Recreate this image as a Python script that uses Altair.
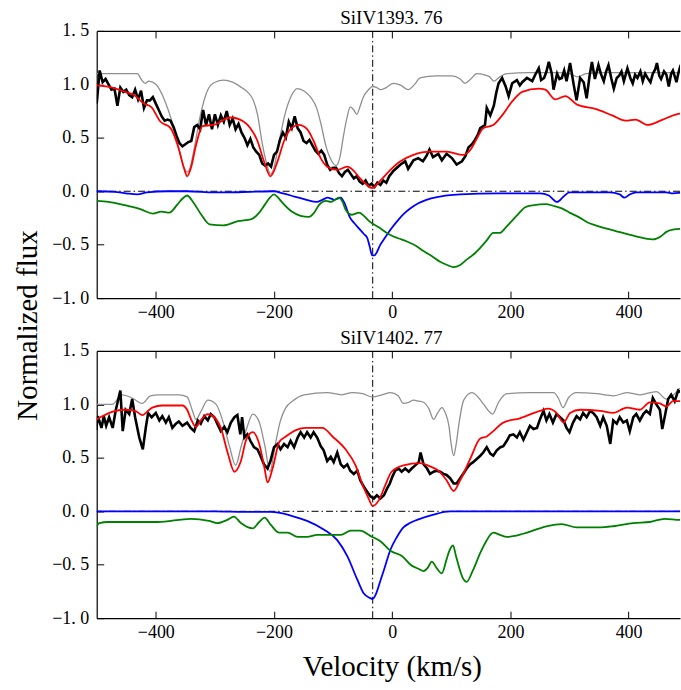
import altair as alt
import pandas as pd

FONT = "Liberation Serif"
VLINE = [-33]
ZERO = [0.0]
X_TICKS = [-400, -200, 0, 200, 400]
Y_TICKS = [-1.0, -0.5, 0.0, 0.5, 1.0, 1.5]
TITLES = ["SiIV1393. 76", "SiIV1402. 77"]

# ---------------- SiIV1393.76 (top) : (velocity, flux) ----------------
top_black = [(-500,0.82),(-495,1.13),(-490,1.02),(-485,1.05),(-480,1.00),(-475,0.95),(-470,0.96),(-465,0.80),
             (-460,0.97),(-455,0.93),(-450,0.95),(-445,0.90),(-440,0.88),(-435,0.95),(-430,0.86),(-425,0.94),
             (-420,0.78),(-415,0.85),(-410,0.85),(-405,0.88),(-400,0.82),(-395,0.76),(-390,0.70),(-385,0.66),
             (-380,0.67),(-375,0.66),(-370,0.60),(-365,0.52),(-360,0.45),(-355,0.42),(-350,0.44),(-345,0.46),
             (-340,0.47),(-335,0.60),(-330,0.62),(-325,0.58),(-320,0.76),(-315,0.62),(-310,0.72),(-305,0.58),
             (-300,0.72),(-295,0.62),(-290,0.71),(-285,0.65),(-280,0.75),(-275,0.62),(-270,0.68),(-265,0.58),
             (-260,0.63),(-255,0.55),(-250,0.50),(-245,0.43),(-240,0.49),(-235,0.41),(-230,0.37),(-225,0.34),
             (-220,0.26),(-215,0.24),(-210,0.26),(-205,0.23),(-200,0.34),(-195,0.37),(-190,0.48),(-185,0.55),
             (-180,0.50),(-175,0.65),(-170,0.59),(-165,0.70),(-160,0.59),(-155,0.55),(-150,0.47),(-145,0.45),
             (-140,0.48),(-135,0.43),(-130,0.38),(-125,0.35),(-120,0.38),(-115,0.34),(-110,0.25),(-105,0.20),
             (-100,0.22),(-95,0.22),(-90,0.17),(-85,0.14),(-80,0.18),(-75,0.20),(-70,0.16),(-65,0.12),
             (-60,0.14),(-55,0.09),(-50,0.07),(-45,0.10),(-40,0.05),(-35,0.07),(-30,0.04),(-25,0.08),
             (-20,0.06),(-15,0.10),(-10,0.08),(-5,0.14),(2,0.19),(8,0.22),(14,0.25),(22,0.28),(27,0.21),
             (36,0.29),(44,0.31),(52,0.28),(58,0.33),(63,0.39),(69,0.32),(78,0.35),(84,0.29),(92,0.35),
             (101,0.31),(109,0.25),(118,0.28),(124,0.33),(129,0.41),(135,0.44),(140,0.48),(145,0.53),
             (149,0.59),(157,0.62),(160,0.78),(166,0.71),(172,0.80),(176,0.92),(180,1.01),(186,1.06),
             (192,0.98),(197,0.89),(203,1.01),(211,1.04),(216,0.99),(220,1.02),(228,1.06),(237,1.03),
             (242,1.09),(248,1.15),(252,1.04),(257,1.06),(261,1.12),(265,1.21),(270,1.10),(273,0.95),
             (279,1.10),(283,1.05),(287,1.06),(291,1.13),(295,1.03),(301,1.20),(307,1.00),(312,0.85),
             (318,1.06),(324,1.02),(329,0.87),(334,1.08),(338,1.21),(343,1.05),(349,1.18),(353,1.10),
             (358,1.03),(362,1.12),(366,1.18),(371,1.05),(375,0.96),(380,1.06),(384,1.08),(388,1.12),
             (392,1.03),(398,1.15),(403,1.06),(407,1.01),(411,1.09),(415,1.06),(420,1.12),(424,1.03),
             (428,1.10),(432,1.06),(437,1.02),(441,1.10),(445,1.14),(448,1.20),(452,1.08),(455,1.05),
             (460,1.12),(464,1.09),(468,0.98),(472,1.10),(475,1.13),(481,1.02),(484,1.10),(487,1.16),(492,1.12)]

top_red = [(-500,0.99),(-474,0.97),(-452,0.93),(-437,0.90),(-420,0.82),(-408,0.79),(-392,0.65),(-375,0.59),
           (-363,0.43),(-352,0.21),(-347,0.14),(-341,0.21),(-332,0.43),(-321,0.61),(-302,0.62),(-274,0.69),
           (-251,0.65),(-240,0.59),(-228,0.47),(-217,0.28),(-206,0.14),(-194,0.28),(-183,0.47),(-172,0.58),
           (-158,0.62),(-144,0.58),(-133,0.47),(-121,0.31),(-110,0.23),(-93,0.20),(-76,0.23),(-65,0.19),
           (-56,0.13),(-45,0.07),(-34,0.03),(-20,0.10),(-3,0.20),(14,0.28),(36,0.34),(64,0.37),(92,0.37),
           (120,0.34),(134,0.40),(143,0.49),(154,0.59),(171,0.62),(186,0.71),(203,0.84),(220,0.93),
           (248,0.96),(259,0.95),(276,0.86),(293,0.89),(313,0.81),(344,0.77),(372,0.71),(395,0.66),
           (412,0.67),(432,0.62),(458,0.67),(481,0.72),(495,0.73)]

top_gray = [(-500,1.10),(-431,1.10),(-425,1.05),(-418,1.01),(-412,1.03),(-400,1.00),(-385,0.85),(-370,0.60),
            (-360,0.38),(-352,0.22),(-347,0.18),(-342,0.22),(-335,0.40),(-325,0.70),(-312,0.95),(-300,1.02),
            (-285,1.04),(-270,1.02),(-255,0.97),(-245,0.93),(-235,0.85),(-228,0.72),(-220,0.45),(-212,0.25),
            (-206,0.16),(-200,0.22),(-192,0.45),(-180,0.75),(-170,0.90),(-161,0.96),(-150,0.94),(-138,0.88),
            (-128,0.78),(-121,0.64),(-112,0.42),(-105,0.31),(-95,0.24),(-88,0.33),(-83,0.50),(-76,0.70),
            (-71,0.79),(-65,0.76),(-60,0.72),(-54,0.80),(-49,0.88),(-40,0.95),(-33,0.98),(-26,0.97),
            (-20,0.95),(-10,0.97),(2,1.01),(15,0.99),(27,0.95),(38,1.00),(47,1.06),(75,1.08),(101,1.08),
            (115,1.05),(123,1.01),(133,1.05),(143,1.10),(155,1.09),(165,1.07),(172,1.03),(182,1.07),
            (194,1.10),(230,1.11),(280,1.11),(300,1.10),(314,1.07),(328,1.10),(360,1.11),(420,1.11),(495,1.11)]

top_blue = [(-500,0.0),(-470,-0.005),(-450,-0.02),(-431,-0.03),(-415,-0.01),(-380,0.0),(-347,0.0),
            (-300,-0.01),(-279,-0.01),(-240,-0.005),(-200,0.0),(-185,-0.02),(-165,-0.05),(-145,-0.08),
            (-128,-0.10),(-118,-0.08),(-109,-0.06),(-103,-0.07),(-98,-0.08),(-87,-0.06),(-80,-0.12),
            (-72,-0.24),(-64,-0.30),(-56,-0.35),(-48,-0.40),(-42,-0.44),(-38,-0.52),(-34,-0.60),(-30,-0.60),
            (-26,-0.57),(-20,-0.50),(-14,-0.45),(-3,-0.36),(10,-0.27),(20,-0.21),(31,-0.16),(45,-0.11),
            (64,-0.07),(90,-0.04),(115,-0.03),(180,-0.02),(250,-0.02),(265,-0.04),(279,-0.10),(290,-0.05),
            (300,-0.01),(368,-0.01),(385,-0.03),(393,-0.06),(402,-0.03),(413,-0.01),(464,-0.01),(475,-0.02),
            (487,-0.015),(495,-0.01)]

top_green = [(-500,-0.09),(-480,-0.10),(-453,-0.13),(-425,-0.17),(-405,-0.21),(-391,-0.19),(-377,-0.20),
             (-363,-0.12),(-355,-0.07),(-347,-0.04),(-337,-0.10),(-323,-0.22),(-309,-0.31),(-286,-0.32),
             (-261,-0.28),(-238,-0.26),(-225,-0.20),(-216,-0.13),(-207,-0.06),(-200,-0.03),(-193,-0.06),
             (-187,-0.10),(-170,-0.19),(-155,-0.23),(-141,-0.24),(-132,-0.20),(-124,-0.13),(-112,-0.09),
             (-104,-0.10),(-97,-0.08),(-90,-0.06),(-84,-0.10),(-79,-0.17),(-68,-0.22),(-56,-0.20),(-48,-0.23),
             (-39,-0.28),(-22,-0.34),(-3,-0.41),(10,-0.44),(25,-0.47),(40,-0.51),(53,-0.56),(68,-0.61),
             (81,-0.66),(93,-0.69),(104,-0.71),(115,-0.69),(126,-0.64),(140,-0.58),(149,-0.53),(160,-0.46),
             (171,-0.39),(182,-0.39),(192,-0.34),(202,-0.28),(214,-0.21),(225,-0.15),(240,-0.13),(259,-0.12),
             (275,-0.14),(287,-0.16),(300,-0.20),(315,-0.24),(330,-0.29),(344,-0.32),(377,-0.37),(411,-0.42),
             (441,-0.45),(455,-0.42),(464,-0.38),(475,-0.36),(495,-0.35)]

# ---------------- SiIV1402.77 (bottom) : (velocity, flux) ----------------
bot_black = [(-501,0.76),(-498,0.89),(-492,0.78),(-488,0.89),(-484,0.80),(-479,0.88),(-473,0.78),(-468,0.94),
             (-460,1.13),(-456,0.75),(-451,0.95),(-445,0.91),(-440,1.05),(-435,0.88),(-428,0.69),(-422,0.58),
             (-417,0.78),(-413,0.92),(-407,0.88),(-400,0.92),(-394,0.85),(-389,0.89),(-383,0.83),(-378,0.88),
             (-372,0.78),(-366,0.82),(-361,0.84),(-355,0.80),(-347,0.83),(-341,0.78),(-335,0.75),(-329,0.85),
             (-324,0.82),(-318,0.89),(-312,0.85),(-307,0.91),(-301,0.88),(-296,0.82),(-290,0.75),(-284,0.79),
             (-279,0.74),(-273,0.83),(-267,0.88),(-262,0.90),(-257,0.72),(-254,0.88),(-250,0.69),(-245,0.72),
             (-240,0.66),(-234,0.60),(-228,0.58),(-223,0.52),(-217,0.44),(-211,0.40),(-206,0.47),(-200,0.60),
             (-194,0.63),(-189,0.58),(-183,0.63),(-177,0.60),(-172,0.66),(-166,0.60),(-160,0.69),(-155,0.74),
             (-149,0.69),(-144,0.74),(-138,0.69),(-133,0.74),(-127,0.69),(-121,0.61),(-116,0.57),(-110,0.47),
             (-104,0.51),(-99,0.46),(-93,0.55),(-87,0.44),(-82,0.41),(-76,0.44),(-71,0.38),(-65,0.35),
             (-59,0.38),(-54,0.29),(-48,0.23),(-42,0.18),(-37,0.14),(-31,0.12),(-26,0.15),(-20,0.12),
             (-14,0.15),(-9,0.21),(-4,0.26),(0,0.32),(5,0.38),(11,0.40),(16,0.37),(22,0.40),(28,0.37),
             (33,0.40),(39,0.43),(45,0.46),(48,0.55),(53,0.44),(59,0.40),(64,0.35),(70,0.37),(75,0.38),
             (81,0.37),(87,0.35),(92,0.34),(98,0.31),(104,0.26),(109,0.26),(115,0.31),(120,0.35),(126,0.40),
             (132,0.44),(137,0.46),(143,0.49),(149,0.52),(154,0.55),(160,0.60),(166,0.54),(171,0.52),
             (177,0.57),(183,0.60),(188,0.61),(194,0.66),(199,0.71),(205,0.72),(211,0.69),(216,0.74),
             (222,0.67),(228,0.74),(233,0.80),(239,0.77),(245,0.78),(250,0.86),(256,0.94),(261,0.85),
             (266,0.91),(272,0.83),(278,0.91),(284,0.88),(290,0.85),(295,0.78),(300,0.74),(306,0.83),
             (312,0.89),(318,0.86),(323,0.92),(329,0.88),(335,0.94),(340,0.92),(346,0.88),(352,0.80),
             (357,0.88),(363,0.80),(369,0.63),(374,0.85),(380,0.82),(385,0.88),(391,0.83),(397,0.85),
             (402,0.75),(408,0.88),(413,0.91),(419,0.85),(425,0.91),(430,0.94),(436,0.91),(441,1.06),
             (447,1.00),(453,0.95),(457,0.77),(461,0.88),(467,1.05),(472,1.09),(478,1.03),(484,1.13),(492,1.10)]

bot_red = [(-500,0.86),(-474,0.93),(-452,0.95),(-435,0.94),(-423,0.90),(-406,0.97),(-389,0.99),(-355,0.99),
           (-347,0.95),(-341,0.87),(-332,0.79),(-324,0.85),(-312,0.91),(-301,0.88),(-290,0.78),(-278,0.54),
           (-267,0.37),(-256,0.47),(-247,0.67),(-236,0.74),(-225,0.63),(-216,0.40),(-211,0.27),(-202,0.41),
           (-191,0.65),(-180,0.70),(-163,0.76),(-146,0.78),(-118,0.78),(-101,0.70),(-79,0.58),(-62,0.43),
           (-51,0.26),(-40,0.12),(-33,0.05),(-23,0.10),(-12,0.24),(-1,0.37),(19,0.43),(47,0.45),(64,0.42),
           (78,0.38),(92,0.29),(104,0.19),(115,0.29),(132,0.49),(149,0.68),(160,0.70),(171,0.75),(188,0.83),
           (216,0.87),(250,0.94),(264,0.96),(278,0.92),(290,0.83),(301,0.92),(318,0.95),(352,0.94),
           (374,0.92),(397,0.97),(419,0.95),(436,1.02),(453,1.01),(464,0.98),(475,1.03),(487,1.03),(495,1.05)]

bot_gray = [(-500,1.00),(-474,1.00),(-457,1.09),(-440,1.06),(-423,1.01),(-409,1.08),(-395,1.09),(-361,1.09),
            (-347,1.07),(-338,0.94),(-332,0.86),(-324,0.93),(-312,1.04),(-298,1.00),(-287,0.85),(-275,0.60),
            (-265,0.43),(-255,0.62),(-246,0.78),(-236,0.91),(-226,0.85),(-215,0.60),(-207,0.37),(-198,0.62),
            (-189,0.85),(-180,0.97),(-169,1.03),(-149,1.09),(-110,1.11),(-85,1.09),(-68,1.11),(-50,1.10),
            (-34,1.07),(-17,1.09),(-3,1.11),(10,1.08),(19,1.01),(28,1.02),(36,1.04),(45,1.03),(53,1.02),
            (62,0.96),(70,0.86),(77,0.92),(84,0.97),(90,0.92),(96,0.80),(100,0.62),(104,0.52),(108,0.62),
            (113,0.82),(121,1.04),(135,1.11),(155,1.00),(163,0.94),(170,0.91),(180,1.02),(194,1.10),
            (233,1.11),(273,1.11),(281,1.06),(289,0.97),(298,1.06),(312,1.11),(346,1.10),(374,1.08),
            (397,1.11),(419,1.09),(447,1.12),(464,1.05),(478,1.10),(487,1.15),(495,1.13)]

bot_blue = [(-500,0.0),(-400,0.0),(-300,0.0),(-250,-0.005),(-206,-0.005),(-190,-0.015),(-172,-0.04),
            (-144,-0.09),(-116,-0.17),(-93,-0.27),(-76,-0.42),(-59,-0.64),(-48,-0.77),(-38,-0.81),(-33,-0.82),
            (-28,-0.78),(-20,-0.65),(-14,-0.55),(-3,-0.36),(8,-0.24),(19,-0.15),(30,-0.11),(42,-0.08),
            (70,-0.03),(98,0.0),(200,0.0),(300,0.0),(400,0.0),(495,0.0)]

bot_green = [(-500,-0.145),(-496,-0.11),(-480,-0.10),(-453,-0.10),(-397,-0.10),(-341,-0.07),(-310,-0.09),
             (-296,-0.11),(-279,-0.08),(-268,-0.05),(-256,-0.11),(-236,-0.16),(-225,-0.10),(-216,-0.06),
             (-205,-0.13),(-191,-0.20),(-177,-0.20),(-160,-0.24),(-144,-0.24),(-127,-0.22),(-104,-0.22),
             (-87,-0.22),(-70,-0.18),(-54,-0.18),(-37,-0.23),(-20,-0.28),(-3,-0.37),(17,-0.42),(31,-0.50),
             (45,-0.54),(53,-0.56),(60,-0.53),(67,-0.47),(75,-0.53),(84,-0.58),(92,-0.45),(96,-0.38),
             (103,-0.32),(108,-0.42),(113,-0.52),(120,-0.63),(126,-0.66),(136,-0.56),(149,-0.39),(160,-0.27),
             (171,-0.20),(182,-0.22),(194,-0.24),(222,-0.21),(261,-0.14),(287,-0.12),(312,-0.15),(352,-0.15),
             (374,-0.14),(408,-0.11),(436,-0.10),(461,-0.07),(487,-0.08),(495,-0.08)]


def df(pairs):
    return pd.DataFrame(pairs, columns=["v", "f"])


XS = alt.Scale(domain=[-500, 487], nice=False, zero=False)
YS = alt.Scale(domain=[-1.0, 1.5], nice=False, zero=False)

common_axis = dict(grid=False, labelFont=FONT, labelColor="black", tickColor="black",
                   domainColor="black", labelFlush=False, labelOverlap=False, minExtent=0)


def x_main(with_title):
    kw = dict(orient="bottom", values=X_TICKS, tickSize=7, offset=-7, domain=False,
              labels=True, labelFontSize=18, labelPadding=5, **common_axis)
    if with_title:
        kw.update(title="Velocity (km/s)", titleFont=FONT, titleFontSize=29, titleFontWeight="normal",
                  titleColor="black", titleX=296, titleY=64, titleAlign="center", titleBaseline="alphabetic")
    else:
        kw.update(title=None)
    return alt.Axis(**kw)


def y_main(with_title):
    kw = dict(orient="left", values=Y_TICKS, tickSize=7, offset=-7, domain=False, labels=True,
              labelFontSize=18, labelPadding=8,
              labelExpr="replace(format(datum.value, '.1f'), '.', '. ')", **common_axis)
    if with_title:
        kw.update(title="Normalized flux", titleFont=FONT, titleFontSize=29, titleFontWeight="normal",
                  titleColor="black", titleAngle=270, titleX=-76, titleY=295, titleAlign="center",
                  titleBaseline="middle")
    else:
        kw.update(title=None)
    return alt.Axis(**kw)


x_top_ticks = alt.Axis(orient="top", values=X_TICKS, tickSize=7, offset=-7, domain=False, labels=False,
                       title=None, maxExtent=0, **common_axis)
x_bottom_frame = alt.Axis(orient="bottom", ticks=False, labels=False, domain=True, domainWidth=1.2,
                          title=None, maxExtent=0, **common_axis)
x_top_frame = alt.Axis(orient="top", ticks=False, labels=False, domain=True, domainWidth=1.2,
                       title=None, maxExtent=0, **common_axis)
y_left_frame = alt.Axis(orient="left", ticks=False, labels=False, domain=True, domainWidth=1.2,
                        title=None, maxExtent=0, **common_axis)

DASHDOT = [7, 3, 1.5, 3]


def panel(title, black, red, gray, blue, green, first):
    hrule = alt.Chart(pd.DataFrame({"f": ZERO})).mark_rule(
        color="black", strokeWidth=1, strokeDash=DASHDOT).encode(
        y=alt.Y("f:Q", scale=YS, axis=None))
    vrule = alt.Chart(pd.DataFrame({"v": VLINE})).mark_rule(
        color="black", strokeWidth=1, strokeDash=DASHDOT).encode(
        x=alt.X("v:Q", scale=XS, axis=None))

    def line(pairs, color, width, xaxis, yaxis, interp):
        return alt.Chart(df(pairs)).mark_line(
            color=color, strokeWidth=width, clip=True, interpolate=interp).encode(
            x=alt.X("v:Q", scale=XS, axis=xaxis),
            y=alt.Y("f:Q", scale=YS, axis=yaxis),
        )

    l_gray = line(gray, "#8f8f8f", 1.3, x_main(not first), y_main(first), "monotone")
    l_black = line(black, "black", 2.6, x_top_ticks, y_left_frame, "linear")
    l_red = line(red, "#ff0000", 1.8, x_bottom_frame, None, "monotone")
    l_blue = line(blue, "#0000ff", 1.8, x_top_frame, None, "monotone")
    l_green = line(green, "#008000", 1.8, None, None, "monotone")

    return alt.layer(hrule, vrule, l_gray, l_black, l_red, l_blue, l_green).resolve_axis(
        x="independent", y="independent").properties(
        width=585, height=268,
        title=alt.TitleParams(text=title, font=FONT, fontSize=19, fontWeight="normal", color="black",
                              offset=-21, baseline="alphabetic", anchor="middle", dx=3))


top = panel(TITLES[0], top_black, top_red, top_gray, top_blue, top_green, True)
bottom = panel(TITLES[1], bot_black, bot_red, bot_gray, bot_blue, bot_green, False)

chart = alt.VConcatChart(vconcat=[top, bottom], spacing=53, bounds="flush").properties(
    padding={"left": 14, "top": 8, "right": 0, "bottom": 0},
    background="white",
).configure_view(stroke=None)

chart.save("out.html", embed_options={"renderer": "svg", "actions": False})
